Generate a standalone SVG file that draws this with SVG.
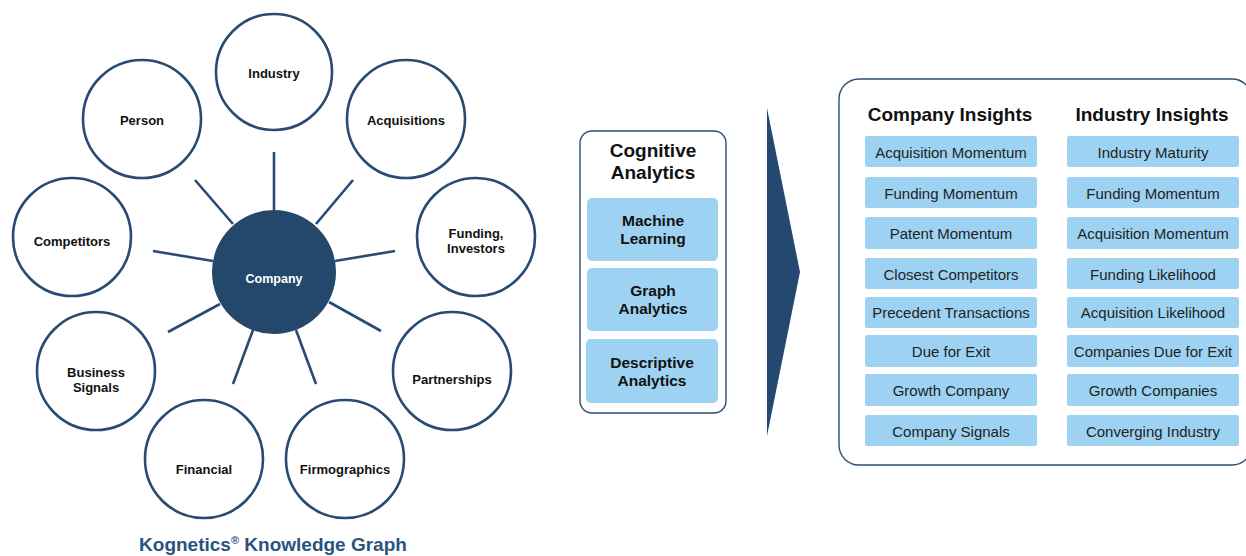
<svg xmlns="http://www.w3.org/2000/svg" width="1246" height="556" viewBox="0 0 1246 556">
  <style>
    .sat { fill: #ffffff; stroke: #294b71; stroke-width: 2.6; }
    .hub { fill: #24476c; }
    .spoke { stroke: #294b71; stroke-width: 2.6; fill: none; }
    .lbl { font-family: "Liberation Sans", Arial, sans-serif; font-weight: bold; font-size: 13px; fill: #111111; text-anchor: middle; }
    .hublbl { font-family: "Liberation Sans", Arial, sans-serif; font-weight: bold; font-size: 12.5px; fill: #ffffff; text-anchor: middle; }
    .title { font-family: "Liberation Sans", Arial, sans-serif; font-weight: bold; font-size: 19px; fill: #2a5480; text-anchor: middle; }
    .panel { fill: #ffffff; stroke: #2d4e73; stroke-width: 1.4; }
    .head { font-family: "Liberation Sans", Arial, sans-serif; font-weight: bold; font-size: 19px; fill: #111111; text-anchor: middle; }
    .tile { fill: #9dd2f2; }
    .tilelbl { font-family: "Liberation Sans", Arial, sans-serif; font-weight: bold; font-size: 15.5px; fill: #111111; text-anchor: middle; }
    .pill { fill: #9dd2f2; }
    .pilllbl { font-family: "Liberation Sans", Arial, sans-serif; font-size: 15px; fill: #222222; text-anchor: middle; }
  </style>

  <!-- spokes from the hub to the surrounding entities -->
  <g id="connectors">
    <line class="spoke" x1="274" y1="152" x2="274" y2="212"/>
    <line class="spoke" x1="195" y1="180" x2="233" y2="224"/>
    <line class="spoke" x1="353" y1="180" x2="316" y2="224"/>
    <line class="spoke" x1="153" y1="251" x2="213" y2="261"/>
    <line class="spoke" x1="335" y1="261" x2="395" y2="251"/>
    <line class="spoke" x1="220" y1="304" x2="168" y2="332"/>
    <line class="spoke" x1="329" y1="302" x2="381" y2="331"/>
    <line class="spoke" x1="253" y1="330" x2="233" y2="384"/>
    <line class="spoke" x1="296" y1="330" x2="316" y2="384"/>
  </g>

  <g id="company">
    <circle class="hub" cx="274" cy="272" r="62"/>
    <text class="hublbl" x="274" y="283">Company</text>
  </g>
  <g id="industry">
    <circle class="sat" cx="274" cy="72" r="58"/>
    <text class="lbl" x="274" y="78">Industry</text>
  </g>
  <g id="person">
    <circle class="sat" cx="142" cy="119" r="59"/>
    <text class="lbl" x="142" y="125">Person</text>
  </g>
  <g id="acquisitions">
    <circle class="sat" cx="406" cy="119" r="59"/>
    <text class="lbl" x="406" y="125">Acquisitions</text>
  </g>
  <g id="competitors">
    <circle class="sat" cx="72" cy="237" r="59"/>
    <text class="lbl" x="72" y="246">Competitors</text>
  </g>
  <g id="funding">
    <circle class="sat" cx="476" cy="237" r="59"/>
    <text class="lbl" x="476" y="238">Funding,</text>
    <text class="lbl" x="476" y="253">Investors</text>
  </g>
  <g id="business-signals">
    <circle class="sat" cx="96" cy="371" r="59"/>
    <text class="lbl" x="96" y="377">Business</text>
    <text class="lbl" x="96" y="392">Signals</text>
  </g>
  <g id="partnerships">
    <circle class="sat" cx="452" cy="371" r="59"/>
    <text class="lbl" x="452" y="384">Partnerships</text>
  </g>
  <g id="financial">
    <circle class="sat" cx="204" cy="459" r="59"/>
    <text class="lbl" x="204" y="474">Financial</text>
  </g>
  <g id="firmographics">
    <circle class="sat" cx="345" cy="459" r="59"/>
    <text class="lbl" x="345" y="474">Firmographics</text>
  </g>

  <text class="title" x="273" y="551">Kognetics<tspan font-size="11" dy="-7">®</tspan><tspan dy="7"> Knowledge Graph</tspan></text>

  <!-- analytics stack -->
  <g id="cognitive-analytics">
    <rect class="panel" x="580" y="131" width="146" height="282" rx="12"/>
    <text class="head" x="653" y="157">Cognitive</text>
    <text class="head" x="653" y="179">Analytics</text>
    <rect class="tile" x="587" y="198" width="131" height="63" rx="5"/>
    <text class="tilelbl" x="653" y="226">Machine</text>
    <text class="tilelbl" x="653" y="244">Learning</text>
    <rect class="tile" x="587" y="268" width="131" height="63" rx="5"/>
    <text class="tilelbl" x="653" y="296">Graph</text>
    <text class="tilelbl" x="653" y="314">Analytics</text>
    <rect class="tile" x="586" y="339" width="132" height="64" rx="5"/>
    <text class="tilelbl" x="652" y="368">Descriptive</text>
    <text class="tilelbl" x="652" y="386">Analytics</text>
  </g>

  <g id="flow-arrow">
    <polygon points="767,108 800,272 767,436" fill="#25486e"/>
  </g>

  <!-- insights panel -->
  <g id="insights">
    <rect class="panel" x="839" y="79" width="413" height="386" rx="20"/>
    <text class="head" x="950" y="121">Company Insights</text>
    <text class="head" x="1152" y="121">Industry Insights</text>

    <g id="company-insights">
      <rect class="pill" x="865" y="136" width="172" height="31" rx="2"/>
      <text class="pilllbl" x="951" y="158">Acquisition Momentum</text>
      <rect class="pill" x="865" y="177" width="172" height="31" rx="2"/>
      <text class="pilllbl" x="951" y="199">Funding Momentum</text>
      <rect class="pill" x="865" y="217" width="172" height="32" rx="2"/>
      <text class="pilllbl" x="951" y="239">Patent Momentum</text>
      <rect class="pill" x="865" y="258" width="172" height="31" rx="2"/>
      <text class="pilllbl" x="951" y="280">Closest Competitors</text>
      <rect class="pill" x="865" y="297" width="172" height="31" rx="2"/>
      <text class="pilllbl" x="951" y="318">Precedent Transactions</text>
      <rect class="pill" x="865" y="335" width="172" height="32" rx="2"/>
      <text class="pilllbl" x="951" y="357">Due for Exit</text>
      <rect class="pill" x="865" y="374" width="172" height="32" rx="2"/>
      <text class="pilllbl" x="951" y="396">Growth Company</text>
      <rect class="pill" x="865" y="415" width="172" height="31" rx="2"/>
      <text class="pilllbl" x="951" y="437">Company Signals</text>
    </g>

    <g id="industry-insights">
      <rect class="pill" x="1067" y="136" width="172" height="31" rx="2"/>
      <text class="pilllbl" x="1153" y="158">Industry Maturity</text>
      <rect class="pill" x="1067" y="177" width="172" height="31" rx="2"/>
      <text class="pilllbl" x="1153" y="199">Funding Momentum</text>
      <rect class="pill" x="1067" y="217" width="172" height="32" rx="2"/>
      <text class="pilllbl" x="1153" y="239">Acquisition Momentum</text>
      <rect class="pill" x="1067" y="258" width="172" height="31" rx="2"/>
      <text class="pilllbl" x="1153" y="280">Funding Likelihood</text>
      <rect class="pill" x="1067" y="297" width="172" height="31" rx="2"/>
      <text class="pilllbl" x="1153" y="318">Acquisition Likelihood</text>
      <rect class="pill" x="1067" y="335" width="172" height="32" rx="2"/>
      <text class="pilllbl" x="1153" y="357">Companies Due for Exit</text>
      <rect class="pill" x="1067" y="374" width="172" height="32" rx="2"/>
      <text class="pilllbl" x="1153" y="396">Growth Companies</text>
      <rect class="pill" x="1067" y="415" width="172" height="31" rx="2"/>
      <text class="pilllbl" x="1153" y="437">Converging Industry</text>
    </g>
  </g>
</svg>
